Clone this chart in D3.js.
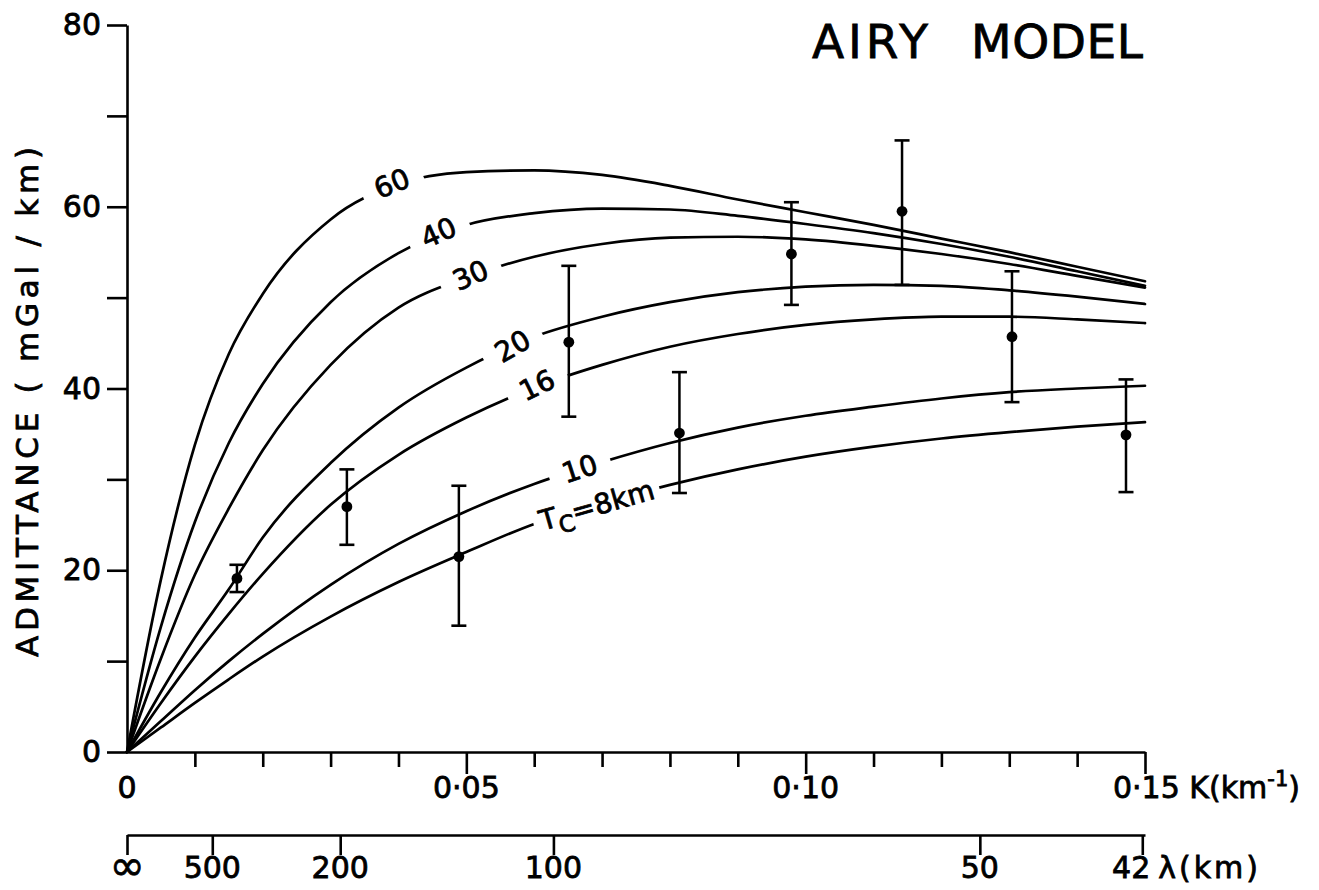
<!DOCTYPE html>
<html>
<head>
<meta charset="utf-8">
<script src="https://cdn.jsdelivr.net/npm/d3@7"></script>
<style>
  html, body { margin: 0; padding: 0; background: #fff; }
  svg { display: block; }
  text { font-family: "DejaVu Sans", sans-serif; fill: #000; stroke: #000; stroke-width: 0.8px; }
</style>
</head>
<body>
<svg id="chart" width="1319" height="890"></svg>
<script>
// Wavenumber samples (km^-1) at which each model curve was read
const kSamples = [0, 0.005, 0.01, 0.015, 0.02, 0.03, 0.04, 0.05, 0.06, 0.07, 0.08, 0.09, 0.10, 0.11, 0.12, 0.13, 0.14, 0.15];

// Airy model admittance (mGal/km) for each crustal thickness Tc
const curve60 = [0, 19.0, 33.8, 43.8, 50.4, 58.6, 62.5, 63.8, 64.0, 63.5, 62.3, 60.8, 59.4, 58.0, 56.5, 55.0, 53.4, 51.8];
const curve40 = [0, 13.8, 25.3, 34.0, 40.5, 49.5, 54.9, 58.0, 59.3, 59.8, 59.7, 59.0, 58.1, 57.1, 55.9, 54.5, 52.9, 51.3];
const curve30 = [0, 10.3, 19.5, 26.8, 33.2, 42.6, 48.9, 52.2, 54.5, 55.9, 56.6, 56.7, 56.4, 55.7, 54.8, 53.7, 52.4, 51.1];
const curve20 = [0, 6.6, 12.6, 17.9, 23.6, 31.8, 37.9, 42.3, 45.7, 47.9, 49.5, 50.6, 51.2, 51.4, 51.3, 50.8, 50.1, 49.3];
const curve16 = [0, 5.4, 10.5, 15.2, 19.6, 27.2, 32.7, 36.8, 40.1, 42.6, 44.6, 46.0, 47.0, 47.6, 47.9, 47.9, 47.6, 47.2];
const curve10 = [0, 3.4, 6.8, 10.0, 13.0, 18.4, 22.9, 26.5, 29.5, 31.9, 34.0, 35.7, 37.0, 38.0, 38.9, 39.6, 40.0, 40.3];
const curve8  = [0, 2.7, 5.4, 8.0, 10.5, 14.9, 18.7, 22.0, 25.1, 27.4, 29.4, 31.1, 32.5, 33.6, 34.5, 35.2, 35.8, 36.3];

// Curve labels: text, position on the curve (K, admittance) and slant
const curveNames  = ["60", "40", "30", "20", "16", "10", "Tc=8km"];
const labelK      = [0.0390, 0.0459, 0.0506, 0.0568, 0.0604, 0.0667, 0.0692];
const labelY      = [62.6, 57.2, 52.5, 44.7, 40.4, 31.2, 27.2];
const labelAngle  = [-23, -24, -24, -30, -26, -18, -16];

// Observed admittance estimates with error bars
const obsK    = [0.0162, 0.0324, 0.0489, 0.0651, 0.0814, 0.0979, 0.1142, 0.1304, 0.1472];
const obsY    = [19.1, 27.0, 21.5, 45.1, 35.1, 54.8, 59.5, 45.7, 34.9];
const obsHigh = [20.6, 31.1, 29.3, 53.5, 41.8, 60.5, 67.3, 52.9, 41.0];
const obsLow  = [17.6, 22.8, 13.9, 36.9, 28.5, 49.2, 51.4, 38.5, 28.6];

// Axis ticks
const yTicks = [0, 10, 20, 30, 40, 50, 60, 70, 80];
const yTickLabels = ["0", "", "20", "", "40", "", "60", "", "80"];
const kTicks = [0.01, 0.02, 0.03, 0.04, 0.05, 0.06, 0.07, 0.08, 0.09, 0.10, 0.11, 0.12, 0.13, 0.14, 0.15];
const kMajor = [0.05, 0.10, 0.15];
const kLabelValues = [0, 0.05, 0.10];
const kLabelText = ["0", "0·05", "0·10"];
const lambdaTicks = [Infinity, 500, 200, 100, 50, 42];
const lambdaLabels = ["∞", "500", "200", "100", "50", "42"];

const svg = d3.select("#chart");
const x = d3.scaleLinear().domain([0, 0.15]).range([127, 1145]);
const y = d3.scaleLinear().domain([0, 80]).range([752, 25]);
const INK = "#000";
const AXW = 2.6;
const TICK_FONT = 30;

// ---- Y axis ----
const yAxis = d3.axisLeft(y)
  .tickValues(yTicks)
  .tickSize(20)
  .tickSizeOuter(0)
  .tickPadding(6)
  .tickFormat((d, i) => yTickLabels[i]);
const gy = svg.append("g").attr("transform", `translate(${x(0)},0)`).call(yAxis);
gy.select(".domain").attr("stroke", INK).attr("stroke-width", AXW);
gy.selectAll(".tick line").attr("stroke", INK).attr("stroke-width", AXW);
gy.selectAll(".tick text")
  .attr("font-size", TICK_FONT)
  .attr("fill", INK).attr("stroke", INK).attr("stroke-width", 0.8);

svg.append("text")
  .attr("transform", `translate(38,402) rotate(-90)`)
  .attr("text-anchor", "middle")
  .attr("font-size", 31)
  .attr("textLength", 510)
  .attr("lengthAdjust", "spacing")
  .text("ADMITTANCE ( mGal / km)");

// ---- K axis ----
const kAxis = d3.axisBottom(x)
  .tickValues(kTicks)
  .tickSize(15)
  .tickSizeOuter(0)
  .tickFormat("");
const gk = svg.append("g").attr("transform", `translate(0,${y(0)})`).call(kAxis);
gk.select(".domain").attr("stroke", INK).attr("stroke-width", AXW);
gk.selectAll(".tick line")
  .attr("stroke", INK).attr("stroke-width", AXW)
  .attr("y2", d => kMajor.some(m => Math.abs(m - d) < 1e-9) ? 22 : 15);

gk.selectAll(".klabel")
  .data(kLabelValues)
  .join("text")
  .attr("class", "klabel")
  .attr("x", d => x(d))
  .attr("y", 46)
  .attr("text-anchor", "middle")
  .attr("font-size", TICK_FONT)
  .text((d, i) => kLabelText[i]);

const kEnd = gk.append("text")
  .attr("x", x(0.15) - 32)
  .attr("y", 46)
  .attr("text-anchor", "start")
  .attr("font-size", TICK_FONT);
kEnd.append("tspan").text("0·15 K(km");
kEnd.append("tspan").attr("dy", -12).attr("font-size", 21).text("-1");
kEnd.append("tspan").attr("dy", 12).text(")");

// ---- wavelength axis, lambda = 2*pi/K ----
const lamAxis = d3.axisBottom(x)
  .tickValues(lambdaTicks.map(l => (l === Infinity ? 0 : 2 * Math.PI / l)))
  .tickSize(20)
  .tickSizeOuter(0)
  .tickFormat("");
const gl = svg.append("g").attr("transform", "translate(0,835)").call(lamAxis);
gl.select(".domain").attr("stroke", INK).attr("stroke-width", AXW);
gl.selectAll(".tick line").attr("stroke", INK).attr("stroke-width", AXW);

gl.selectAll(".llabel")
  .data(lambdaTicks.slice(0, 5))
  .join("text")
  .attr("class", "llabel")
  .attr("x", d => x(d === Infinity ? 0 : 2 * Math.PI / d))
  .attr("y", (d, i) => (i === 0 ? 45 : 43))
  .attr("text-anchor", "middle")
  .attr("font-size", (d, i) => (i === 0 ? 42 : TICK_FONT))
  .text((d, i) => lambdaLabels[i]);

const xLast = x(2 * Math.PI / lambdaTicks[5]);
gl.append("text")
  .attr("x", xLast + 8)
  .attr("y", 43)
  .attr("text-anchor", "end")
  .attr("font-size", TICK_FONT)
  .text(lambdaLabels[5]);
gl.append("text")
  .attr("x", xLast + 16)
  .attr("y", 43)
  .attr("text-anchor", "start")
  .attr("font-size", TICK_FONT)
  .attr("letter-spacing", 3)
  .text("λ(km)");

// ---- title ----
const title = svg.append("g").attr("font-size", 47);
title.append("text").attr("x", 812).attr("y", 58).attr("textLength", 116).attr("lengthAdjust", "spacing").text("AIRY");
title.append("text").attr("x", 971).attr("y", 58).attr("textLength", 172).attr("lengthAdjust", "spacing").text("MODEL");

// ---- model curves ----
const curves = [curve60, curve40, curve30, curve20, curve16, curve10, curve8];
const line = d3.line()
  .x(d => x(d[0]))
  .y(d => y(d[1]))
  .curve(d3.curveMonotoneX);

svg.append("g")
  .selectAll("path")
  .data(curves)
  .join("path")
  .attr("d", c => line(kSamples.map((k, i) => [k, c[i]])))
  .attr("fill", "none")
  .attr("stroke", INK)
  .attr("stroke-width", 2.7)
  .attr("stroke-linecap", "round");

// ---- curve labels, each breaking its line ----
const gLab = svg.append("g");
curveNames.forEach((name, i) => {
  const g = gLab.append("g")
    .attr("transform", `translate(${x(labelK[i])},${y(labelY[i])}) rotate(${labelAngle[i]})`);
  const mask = g.append("rect").attr("fill", "#fff");
  const t = g.append("text")
    .attr("text-anchor", "middle")
    .attr("dy", "0.36em")
    .attr("font-size", 28);
  if (name.startsWith("Tc")) {
    t.append("tspan").text("T");
    t.append("tspan").attr("dy", 8).attr("font-size", 23).text("C");
    t.append("tspan").attr("dy", -8).text("=8km");
  } else {
    t.text(name);
  }
  const b = t.node().getBBox();
  const padX = name.startsWith("Tc") ? 6 : 14;
  mask.attr("x", b.x - padX).attr("y", b.y - 2)
      .attr("width", b.width + 2 * padX).attr("height", b.height + 4);
});

// ---- observations ----
const gObs = svg.append("g");
const capHalf = 7.5;
obsK.forEach((k, i) => {
  const cx = x(k);
  gObs.append("line")
    .attr("x1", cx).attr("x2", cx)
    .attr("y1", y(obsHigh[i])).attr("y2", y(obsLow[i]))
    .attr("stroke", INK).attr("stroke-width", 2.5);
  [obsHigh[i], obsLow[i]].forEach(v => {
    gObs.append("line")
      .attr("x1", cx - capHalf).attr("x2", cx + capHalf)
      .attr("y1", y(v)).attr("y2", y(v))
      .attr("stroke", INK).attr("stroke-width", 2.6);
  });
  gObs.append("circle")
    .attr("cx", cx).attr("cy", y(obsY[i]))
    .attr("r", 5.4)
    .attr("fill", INK);
});
</script>
</body>
</html>
